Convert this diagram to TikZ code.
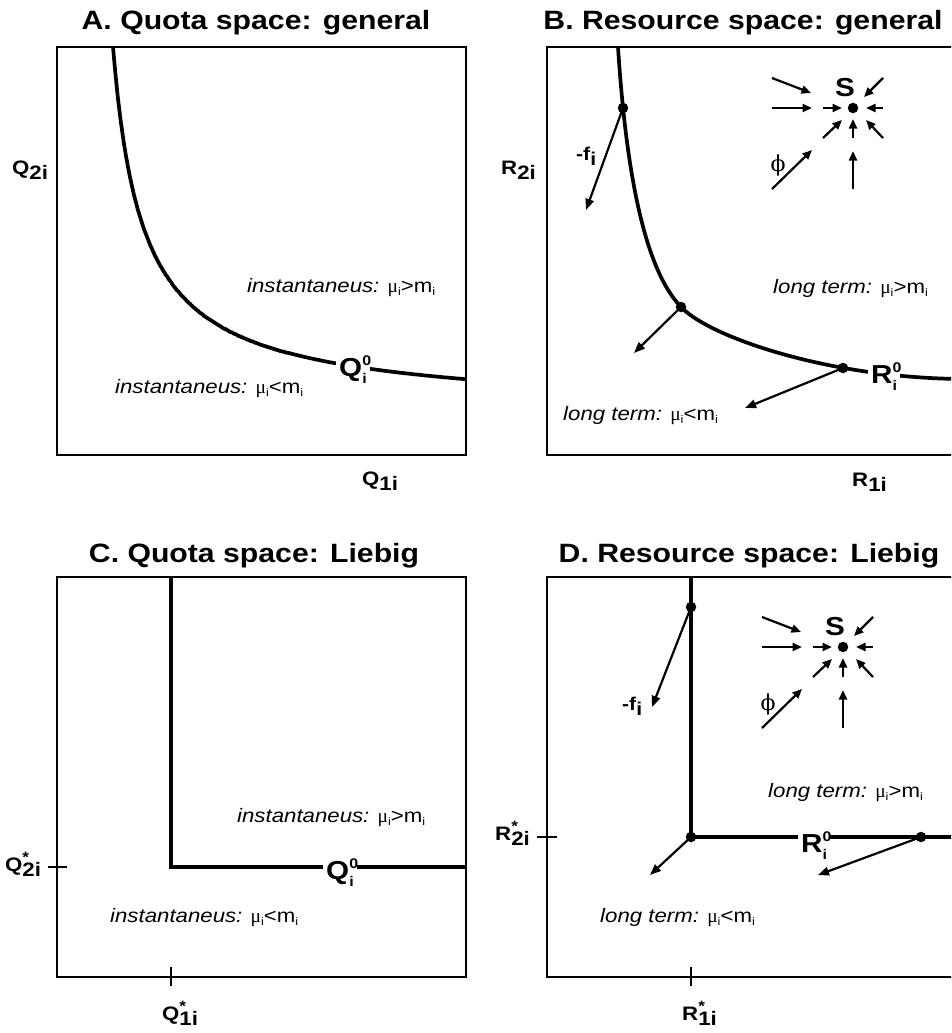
\documentclass[tikz,border=0pt]{standalone}
\usepackage{fontspec}
\setmainfont[FakeStretch=1.14]{Liberation Sans}
\newfontfamily\serifgr{Liberation Serif}
\newfontfamily\phifont{DejaVu Serif}
\usetikzlibrary{arrows.meta}
\newcommand{\lsub}[1]{\raisebox{-3pt}{\fontsize{11}{11}\selectfont #1}}
\newcommand{\mui}{{\serifgr μ}\lsub{i}}
\newcommand{\myinst}[1]{{\fontsize{19.5}{20}\selectfont\textit{instantaneus:} \mui#1m\lsub{i}}}
\newcommand{\mylterm}[1]{{\fontsize{19.5}{20}\selectfont\textit{long term:} \mui#1m\lsub{i}}}
\newcommand{\axl}[2]{{\fontsize{19.5}{19.5}\selectfont\bfseries #1\raisebox{-5pt}{#2}}}
\newcommand{\axls}[2]{{\fontsize{19.5}{19.5}\selectfont\bfseries #1\rlap{\raisebox{9pt}{\fontsize{15}{15}\selectfont *}}\raisebox{-5pt}{#2}}}
\newcommand{\eqlab}[1]{{\fontsize{26}{26}\selectfont\bfseries #1\rlap{\raisebox{11pt}{\fontsize{14}{14}\selectfont 0}}\raisebox{-7pt}{\fontsize{14}{14}\selectfont i}\hspace{4pt}}}
\newcommand{\ttl}[1]{{\fontsize{26.5}{27}\selectfont\bfseries #1}}
\newcommand{\fvec}{{\fontsize{18.5}{18.5}\selectfont\bfseries -f\raisebox{-5pt}{i}}}
\newcommand{\scluster}[1]{%
  \node[bigdot] (s#1) at (0,0) {};
  \node[inner sep=0pt] (S#1) at (-8,-20) {\fontsize{26}{26}\selectfont\bfseries S};
  \node[inner sep=0pt] (phi#1) at (-75,57) {\fontsize{22}{22}\selectfont\phifont ϕ};
  \foreach \a/\b/\c/\d/\n in {-81/-30/-42/-15/1,-81/0/-41/0/2,-30/0/-11/0/3,30/0/13/0/4,30/-30/11/-11/5,30/30/13/12/6,0/30/0/11/7,-30/30/-11/12/8,-81/81/-41/42/9,0/81/0/43/10}{
    \coordinate (p#1\n) at (\a,\b);
    \coordinate (q#1\n) at (\c,\d);
    \draw[sarr] (p#1\n) -- (q#1\n);
  }
}
\begin{document}
\begin{tikzpicture}[x=1pt,y=-1pt,
 boxline/.style={line width=2.5pt},
 bcurve/.style={line width=3.7pt},
 liebig/.style={line width=3.9pt},
 arr/.style={line width=2.2pt,-{Triangle[length=11pt,width=8.5pt]}},
 sarr/.style={line width=2.2pt,-{Triangle[length=9.5pt,width=8pt]}},
 bigdot/.style={circle,fill=black,inner sep=0pt,minimum size=10.5pt},
 lab/.style={inner sep=0pt,anchor=base west},
 gaplab/.style={fill=white,inner xsep=3pt,inner ysep=1pt,anchor=base west},
 ttlnode/.style={inner sep=0pt,anchor=base}]
\useasboundingbox (0,0) rectangle (951,1033);
\clip (0,0) rectangle (951,1033);
% ---------------- Panel A
\node[ttlnode] (tA) at (256,30) {\ttl{A. Quota space: general}};
\draw[boxline] (57,47) rectangle (466,455);
\begin{scope}
\clip (57,47) rectangle (470,455);
\draw[bcurve,line join=round] plot[smooth,domain=112.2:466,samples=360] (\x,{415-6281*exp(-0.87*ln(\x-87))});
\end{scope}
\node[gaplab] (qA) at (336,376) {\eqlab{Q}};
\node[lab] (a2) at (12,174) {\axl{Q}{2i}};
\node[lab] (a1) at (362,485) {\axl{Q}{1i}};
\node[lab] (iA1) at (247,292) {\myinst{>}};
\node[lab] (iA2) at (115,393) {\myinst{<}};
% ---------------- Panel B
\node[ttlnode] (tB) at (743,30) {\ttl{B. Resource space: general}};
\draw[boxline] (547,47) rectangle (956,455);
\draw[bcurve] (618,47) .. controls (626,170) and (644,270) .. (682,308)
                       .. controls (712,338) and (830,378) .. (962,379);
\node[gaplab] (rB) at (868,383) {\eqlab{R}};
\node[bigdot] (b1) at (623,108) {};
\node[bigdot] (b2) at (681,307) {};
\node[bigdot] (b3) at (843,368) {};
\coordinate (b1e) at (586,210);
\coordinate (b2e) at (634,353);
\coordinate (b3e) at (745,408);
\draw[arr] (b1.center) -- (b1e);
\draw[arr] (b2.center) -- (b2e);
\draw[arr] (b3.center) -- (b3e);
\node[lab] (fB) at (576,160) {\fvec};
\node[lab] (b2l) at (501,174) {\axl{R}{2i}};
\node[lab] (b1l) at (852,486) {\axl{R}{1i}};
\node[lab] (lB1) at (773,293) {\mylterm{>}};
\node[lab] (lB2) at (563,420) {\mylterm{<}};
\begin{scope}[shift={(853,108)}]
\scluster{B}
\end{scope}
% ---------------- Panel C
\node[ttlnode] (tC) at (254,562) {\ttl{C. Quota space: Liebig}};
\draw[boxline] (57,577) rectangle (466,977);
\draw[liebig] (171,577) -- (171,867) -- (466,867);
\node[gaplab] (qC) at (323,879) {\eqlab{Q}};
\draw[boxline] (48,867) -- (67,867);
\draw[boxline] (171,967) -- (171,986);
\node[lab] (c2) at (5,871) {\axls{Q}{2i}};
\node[lab] (c1) at (162,1020) {\axls{Q}{1i}};
\node[lab] (iC1) at (237,822) {\myinst{>}};
\node[lab] (iC2) at (110,922) {\myinst{<}};
% ---------------- Panel D
\node[ttlnode] (tD) at (749,562) {\ttl{D. Resource space: Liebig}};
\draw[boxline] (547,577) rectangle (956,977);
\draw[liebig] (691,577) -- (691,837) -- (962,837);
\node[gaplab] (rD) at (798,852) {\eqlab{R}};
\node[bigdot] (d1) at (691,607) {};
\node[bigdot] (d2) at (691,837) {};
\node[bigdot] (d3) at (921,837) {};
\coordinate (d1e) at (652,707);
\coordinate (d2e) at (650,875);
\coordinate (d3e) at (818,875);
\draw[arr] (d1.center) -- (d1e);
\draw[arr] (d2.center) -- (d2e);
\draw[arr] (d3.center) -- (d3e);
\node[lab] (fD) at (622,710) {\fvec};
\draw[boxline] (537,837) -- (557,837);
\draw[boxline] (691,967) -- (691,986);
\node[lab] (d2l) at (495,840) {\axls{R}{2i}};
\node[lab] (d1l) at (682,1020) {\axls{R}{1i}};
\node[lab] (lD1) at (768,797) {\mylterm{>}};
\node[lab] (lD2) at (600,922) {\mylterm{<}};
\begin{scope}[shift={(843,647)}]
\scluster{D}
\end{scope}
\end{tikzpicture}
\end{document}
